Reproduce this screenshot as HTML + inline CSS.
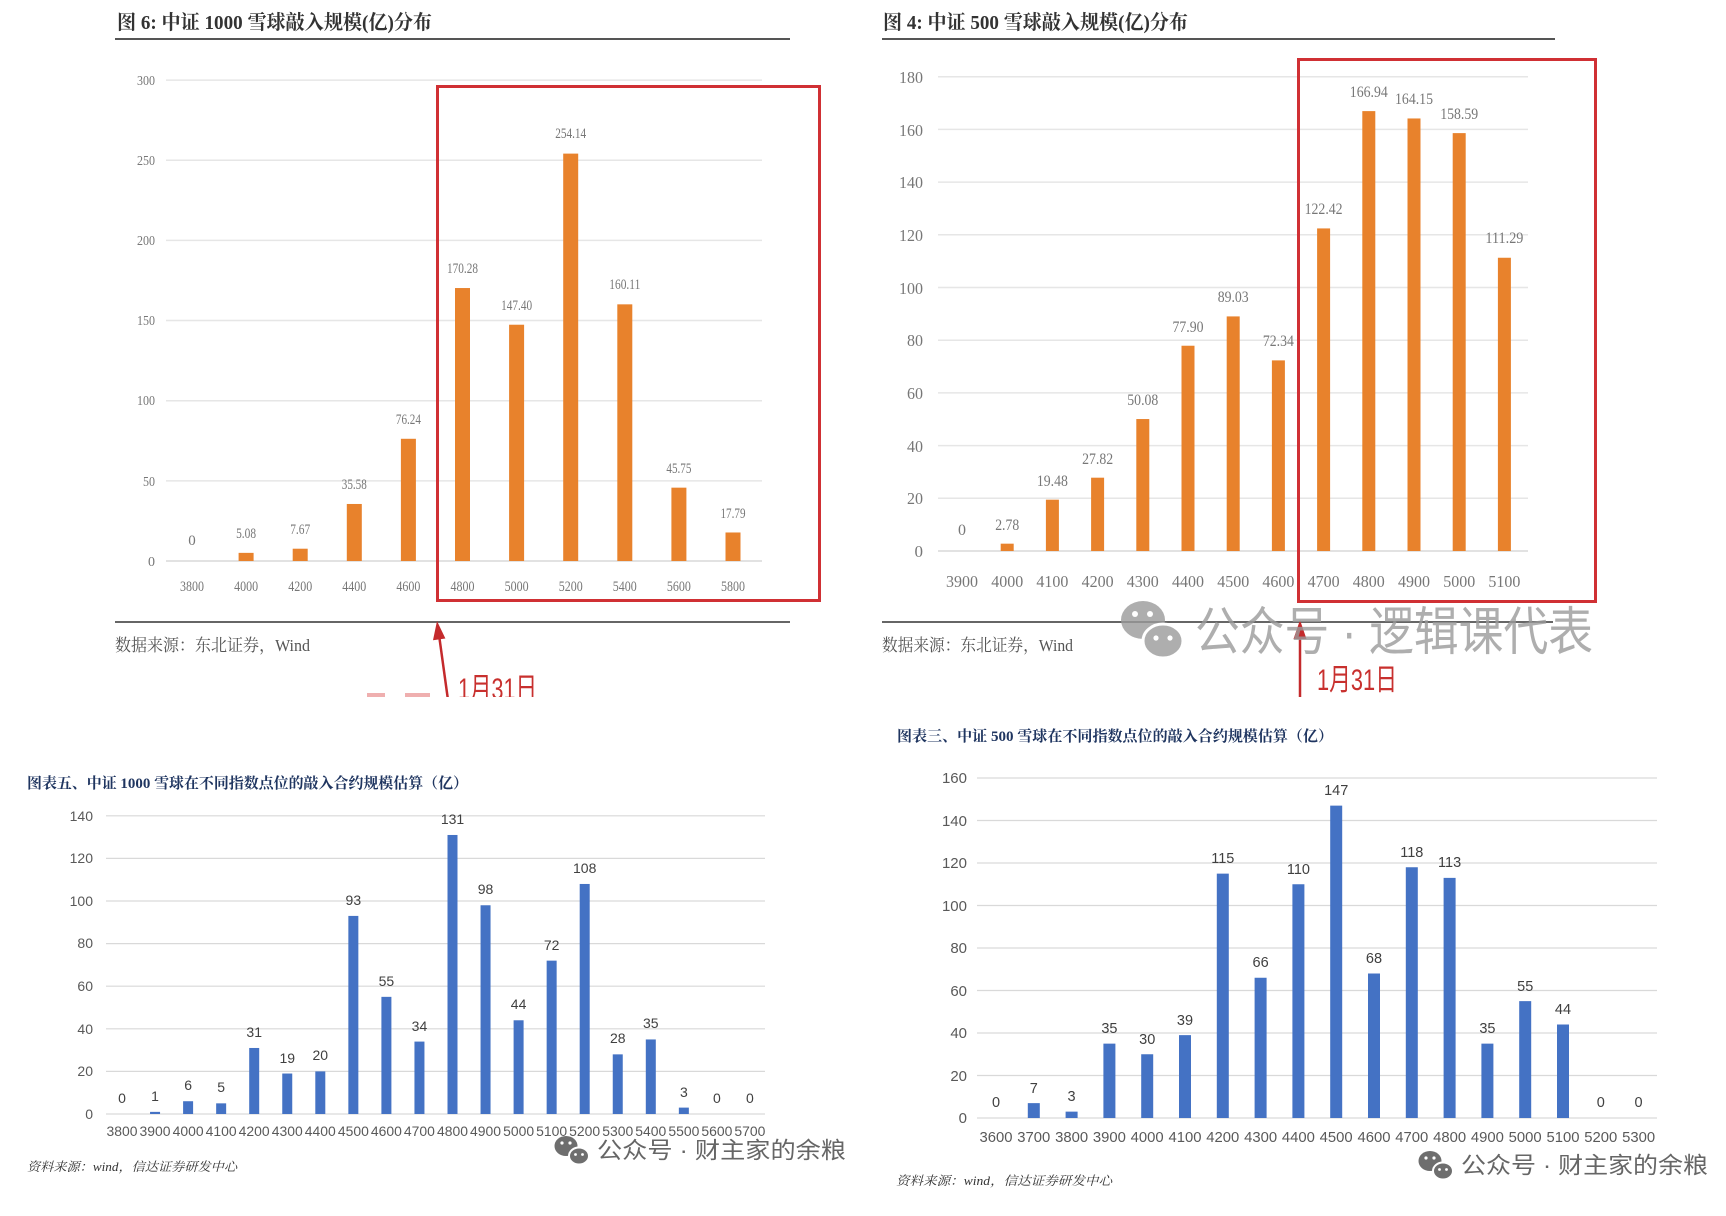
<!DOCTYPE html>
<html><head><meta charset="utf-8"><style>
html,body{margin:0;padding:0;background:#fff;}
svg{display:block;}
.ser{font-family:"Liberation Serif","Noto Serif CJK SC",serif;}
.san{font-family:"Liberation Sans","Noto Sans CJK SC",sans-serif;}
</style></head><body>
<svg width="1726" height="1216" viewBox="0 0 1726 1216" xmlns="http://www.w3.org/2000/svg">
<defs><clipPath id="topc"><rect x="0" y="0" width="1726" height="697"/></clipPath></defs>
<rect width="1726" height="1216" fill="#fff"/>
<g clip-path="url(#topc)">
<!-- ===== Top-left chart ===== -->
<text class="ser" x="117" y="29" font-size="20" font-weight="bold" fill="#333" textLength="315" lengthAdjust="spacingAndGlyphs">图 6: 中证 1000 雪球敲入规模(亿)分布</text>
<line x1="115" y1="39" x2="790" y2="39" stroke="#555" stroke-width="2"/>
<g stroke="#e6e6e6" stroke-width="1.5">
<line x1="166" y1="80.1" x2="762" y2="80.1"/><line x1="166" y1="160.25" x2="762" y2="160.25"/><line x1="166" y1="240.4" x2="762" y2="240.4"/><line x1="166" y1="320.55" x2="762" y2="320.55"/><line x1="166" y1="400.7" x2="762" y2="400.7"/><line x1="166" y1="480.85" x2="762" y2="480.85"/><line x1="166" y1="561" x2="762" y2="561" stroke="#d9d9d9"/>
</g>
<g class="ser" font-size="14" fill="#777" text-anchor="end">
<text x="155" y="85" textLength="18" lengthAdjust="spacingAndGlyphs">300</text>
<text x="155" y="165" textLength="18" lengthAdjust="spacingAndGlyphs">250</text>
<text x="155" y="245" textLength="18" lengthAdjust="spacingAndGlyphs">200</text>
<text x="155" y="325" textLength="18" lengthAdjust="spacingAndGlyphs">150</text>
<text x="155" y="405" textLength="18" lengthAdjust="spacingAndGlyphs">100</text>
<text x="155" y="486" textLength="12" lengthAdjust="spacingAndGlyphs">50</text>
<text x="155" y="566">0</text>
</g>
<g fill="#e8822c">
<rect x="238.6" y="552.86" width="15" height="8.14"/>
<rect x="292.7" y="548.71" width="15" height="12.29"/>
<rect x="346.8" y="503.97" width="15" height="57.03"/>
<rect x="400.9" y="438.79" width="15" height="122.21"/>
<rect x="455" y="288.04" width="15" height="272.96"/>
<rect x="509.1" y="324.72" width="15" height="236.28"/>
<rect x="563.2" y="153.61" width="15" height="407.39"/>
<rect x="617.3" y="304.34" width="15" height="256.66"/>
<rect x="671.4" y="487.66" width="15" height="73.34"/>
<rect x="725.5" y="532.48" width="15" height="28.52"/>
</g>
<g class="ser" font-size="15" fill="#777" text-anchor="middle">
<text x="192" y="545">0</text>
<text x="246.1" y="538" textLength="20" lengthAdjust="spacingAndGlyphs">5.08</text>
<text x="300.2" y="534" textLength="20" lengthAdjust="spacingAndGlyphs">7.67</text>
<text x="354.3" y="489" textLength="25" lengthAdjust="spacingAndGlyphs">35.58</text>
<text x="408.4" y="424" textLength="25" lengthAdjust="spacingAndGlyphs">76.24</text>
<text x="462.5" y="273" textLength="31" lengthAdjust="spacingAndGlyphs">170.28</text>
<text x="516.6" y="310" textLength="31" lengthAdjust="spacingAndGlyphs">147.40</text>
<text x="570.7" y="138" textLength="31" lengthAdjust="spacingAndGlyphs">254.14</text>
<text x="624.8" y="289" textLength="31" lengthAdjust="spacingAndGlyphs">160.11</text>
<text x="678.9" y="473" textLength="25" lengthAdjust="spacingAndGlyphs">45.75</text>
<text x="733" y="518" textLength="25" lengthAdjust="spacingAndGlyphs">17.79</text>
</g>
<g class="ser" font-size="15" fill="#777" text-anchor="middle">
<text x="192" y="591" textLength="24" lengthAdjust="spacingAndGlyphs">3800</text>
<text x="246.1" y="591" textLength="24" lengthAdjust="spacingAndGlyphs">4000</text>
<text x="300.2" y="591" textLength="24" lengthAdjust="spacingAndGlyphs">4200</text>
<text x="354.3" y="591" textLength="24" lengthAdjust="spacingAndGlyphs">4400</text>
<text x="408.4" y="591" textLength="24" lengthAdjust="spacingAndGlyphs">4600</text>
<text x="462.5" y="591" textLength="24" lengthAdjust="spacingAndGlyphs">4800</text>
<text x="516.6" y="591" textLength="24" lengthAdjust="spacingAndGlyphs">5000</text>
<text x="570.7" y="591" textLength="24" lengthAdjust="spacingAndGlyphs">5200</text>
<text x="624.8" y="591" textLength="24" lengthAdjust="spacingAndGlyphs">5400</text>
<text x="678.9" y="591" textLength="24" lengthAdjust="spacingAndGlyphs">5600</text>
<text x="733" y="591" textLength="24" lengthAdjust="spacingAndGlyphs">5800</text>
</g>
<rect x="437.5" y="86.5" width="382" height="514" fill="none" stroke="#d03034" stroke-width="3"/>
<line x1="115" y1="622" x2="790" y2="622" stroke="#666" stroke-width="2"/>
<text class="ser" x="115" y="651" font-size="17" fill="#555" textLength="195" lengthAdjust="spacingAndGlyphs">数据来源：东北证券，Wind</text>
<line x1="448" y1="700" x2="439.3" y2="637" stroke="#c42a2c" stroke-width="2.5"/>
<polygon points="437,621 445.4,638.5 433,640.2" fill="#c42a2c"/>
<text class="san" x="458" y="699" font-size="30" fill="#c8302e" textLength="79" lengthAdjust="spacingAndGlyphs">1月31日</text>
<rect x="367" y="693" width="18" height="4" fill="#e06060" opacity="0.5"/>
<rect x="405" y="693" width="25" height="4" fill="#e06060" opacity="0.5"/>

<!-- ===== Top-right chart ===== -->
<text class="ser" x="883" y="29" font-size="20" font-weight="bold" fill="#333" textLength="305" lengthAdjust="spacingAndGlyphs">图 4: 中证 500 雪球敲入规模(亿)分布</text>
<line x1="882" y1="39" x2="1555" y2="39" stroke="#555" stroke-width="2"/>
<g stroke="#e6e6e6" stroke-width="1.5">
<line x1="938" y1="76.7" x2="1528" y2="76.7"/><line x1="938" y1="129.4" x2="1528" y2="129.4"/><line x1="938" y1="182.1" x2="1528" y2="182.1"/><line x1="938" y1="234.8" x2="1528" y2="234.8"/><line x1="938" y1="287.5" x2="1528" y2="287.5"/><line x1="938" y1="340.2" x2="1528" y2="340.2"/><line x1="938" y1="392.9" x2="1528" y2="392.9"/><line x1="938" y1="445.6" x2="1528" y2="445.6"/><line x1="938" y1="498.3" x2="1528" y2="498.3"/><line x1="938" y1="551" x2="1528" y2="551" stroke="#d9d9d9"/>
</g>
<g class="ser" font-size="17" fill="#777" text-anchor="end">
<text x="923" y="83" textLength="24" lengthAdjust="spacingAndGlyphs">180</text>
<text x="923" y="136" textLength="24" lengthAdjust="spacingAndGlyphs">160</text>
<text x="923" y="188" textLength="24" lengthAdjust="spacingAndGlyphs">140</text>
<text x="923" y="241" textLength="24" lengthAdjust="spacingAndGlyphs">120</text>
<text x="923" y="294" textLength="24" lengthAdjust="spacingAndGlyphs">100</text>
<text x="923" y="346" textLength="16" lengthAdjust="spacingAndGlyphs">80</text>
<text x="923" y="399" textLength="16" lengthAdjust="spacingAndGlyphs">60</text>
<text x="923" y="452" textLength="16" lengthAdjust="spacingAndGlyphs">40</text>
<text x="923" y="504" textLength="16" lengthAdjust="spacingAndGlyphs">20</text>
<text x="923" y="557">0</text>
</g>
<g fill="#e8822c">
<rect x="1000.7" y="543.67" width="13" height="7.33"/>
<rect x="1045.9" y="499.67" width="13" height="51.33"/>
<rect x="1091.1" y="477.69" width="13" height="73.31"/>
<rect x="1136.3" y="419.04" width="13" height="131.96"/>
<rect x="1181.5" y="345.73" width="13" height="205.27"/>
<rect x="1226.7" y="316.41" width="13" height="234.59"/>
<rect x="1271.9" y="360.38" width="13" height="190.62"/>
<rect x="1317.1" y="228.42" width="13" height="322.58"/>
<rect x="1362.3" y="111.11" width="13" height="439.89"/>
<rect x="1407.5" y="118.46" width="13" height="432.54"/>
<rect x="1452.7" y="133.12" width="13" height="417.88"/>
<rect x="1497.9" y="257.75" width="13" height="293.25"/>
</g>
<g class="ser" font-size="16" fill="#777" text-anchor="middle">
<text x="962" y="535">0</text>
<text x="1007.2" y="530" textLength="24" lengthAdjust="spacingAndGlyphs">2.78</text>
<text x="1052.4" y="486" textLength="31" lengthAdjust="spacingAndGlyphs">19.48</text>
<text x="1097.6" y="464" textLength="31" lengthAdjust="spacingAndGlyphs">27.82</text>
<text x="1142.8" y="405" textLength="31" lengthAdjust="spacingAndGlyphs">50.08</text>
<text x="1188" y="332" textLength="31" lengthAdjust="spacingAndGlyphs">77.90</text>
<text x="1233.2" y="302" textLength="31" lengthAdjust="spacingAndGlyphs">89.03</text>
<text x="1278.4" y="346" textLength="31" lengthAdjust="spacingAndGlyphs">72.34</text>
<text x="1323.6" y="214" textLength="38" lengthAdjust="spacingAndGlyphs">122.42</text>
<text x="1368.8" y="97" textLength="38" lengthAdjust="spacingAndGlyphs">166.94</text>
<text x="1414" y="104" textLength="38" lengthAdjust="spacingAndGlyphs">164.15</text>
<text x="1459.2" y="119" textLength="38" lengthAdjust="spacingAndGlyphs">158.59</text>
<text x="1504.4" y="243" textLength="38" lengthAdjust="spacingAndGlyphs">111.29</text>
</g>
<g class="ser" font-size="17" fill="#777" text-anchor="middle">
<text x="962" y="587" textLength="32" lengthAdjust="spacingAndGlyphs">3900</text>
<text x="1007.2" y="587" textLength="32" lengthAdjust="spacingAndGlyphs">4000</text>
<text x="1052.4" y="587" textLength="32" lengthAdjust="spacingAndGlyphs">4100</text>
<text x="1097.6" y="587" textLength="32" lengthAdjust="spacingAndGlyphs">4200</text>
<text x="1142.8" y="587" textLength="32" lengthAdjust="spacingAndGlyphs">4300</text>
<text x="1188" y="587" textLength="32" lengthAdjust="spacingAndGlyphs">4400</text>
<text x="1233.2" y="587" textLength="32" lengthAdjust="spacingAndGlyphs">4500</text>
<text x="1278.4" y="587" textLength="32" lengthAdjust="spacingAndGlyphs">4600</text>
<text x="1323.6" y="587" textLength="32" lengthAdjust="spacingAndGlyphs">4700</text>
<text x="1368.8" y="587" textLength="32" lengthAdjust="spacingAndGlyphs">4800</text>
<text x="1414" y="587" textLength="32" lengthAdjust="spacingAndGlyphs">4900</text>
<text x="1459.2" y="587" textLength="32" lengthAdjust="spacingAndGlyphs">5000</text>
<text x="1504.4" y="587" textLength="32" lengthAdjust="spacingAndGlyphs">5100</text>
</g>
<rect x="1298.5" y="59.5" width="297" height="542" fill="none" stroke="#d03034" stroke-width="3"/>
<line x1="882" y1="622" x2="1553" y2="622" stroke="#666" stroke-width="2"/>
<text class="ser" x="882" y="651" font-size="17" fill="#555" textLength="191" lengthAdjust="spacingAndGlyphs">数据来源：东北证券，Wind</text>
<line x1="1300" y1="700" x2="1300" y2="636" stroke="#c42a2c" stroke-width="2.5"/>
<polygon points="1300,620 1306.5,639 1293.5,639" fill="#c42a2c"/>
<text class="san" x="1317" y="690" font-size="30" fill="#c8302e" textLength="80" lengthAdjust="spacingAndGlyphs">1月31日</text>
<!-- watermark -->
<g opacity="0.8">
<ellipse cx="1143" cy="620" rx="22" ry="19" fill="#9a9a9a"/>
<circle cx="1135" cy="614" r="3" fill="#fff"/><circle cx="1150" cy="614" r="3" fill="#fff"/>
<ellipse cx="1163" cy="641" rx="20" ry="17" fill="#9a9a9a" stroke="#fff" stroke-width="3"/>
<circle cx="1156" cy="638" r="2.6" fill="#fff"/><circle cx="1170" cy="638" r="2.6" fill="#fff"/>
<text class="san" x="1195" y="650" font-size="52" fill="#9a9a9a" textLength="398" lengthAdjust="spacingAndGlyphs">公众号 · 逻辑课代表</text>
</g>
</g>

<!-- ===== Bottom-left chart ===== -->
<text class="ser" x="27" y="788" font-size="15" font-weight="bold" fill="#1f3560" textLength="441" lengthAdjust="spacingAndGlyphs">图表五、中证 1000 雪球在不同指数点位的敲入合约规模估算（亿）</text>
<g stroke="#d9d9d9" stroke-width="1.2">
<line x1="106" y1="815.8" x2="765" y2="815.8"/><line x1="106" y1="858.4" x2="765" y2="858.4"/><line x1="106" y1="901" x2="765" y2="901"/><line x1="106" y1="943.6" x2="765" y2="943.6"/><line x1="106" y1="986.2" x2="765" y2="986.2"/><line x1="106" y1="1028.8" x2="765" y2="1028.8"/><line x1="106" y1="1071.4" x2="765" y2="1071.4"/><line x1="106" y1="1114" x2="765" y2="1114"/>
</g>
<g class="san" font-size="14" fill="#595959" text-anchor="end">
<text x="93" y="821">140</text><text x="93" y="863">120</text><text x="93" y="906">100</text><text x="93" y="948">80</text><text x="93" y="991">60</text><text x="93" y="1034">40</text><text x="93" y="1076">20</text><text x="93" y="1119">0</text>
</g>
<g fill="#4472c4">
<rect x="150.05" y="1111.87" width="10" height="2.13"/>
<rect x="183.1" y="1101.22" width="10" height="12.78"/>
<rect x="216.15" y="1103.35" width="10" height="10.65"/>
<rect x="249.2" y="1047.97" width="10" height="66.03"/>
<rect x="282.25" y="1073.53" width="10" height="40.47"/>
<rect x="315.3" y="1071.4" width="10" height="42.6"/>
<rect x="348.35" y="915.91" width="10" height="198.09"/>
<rect x="381.4" y="996.85" width="10" height="117.15"/>
<rect x="414.45" y="1041.58" width="10" height="72.42"/>
<rect x="447.5" y="834.97" width="10" height="279.03"/>
<rect x="480.55" y="905.26" width="10" height="208.74"/>
<rect x="513.6" y="1020.28" width="10" height="93.72"/>
<rect x="546.65" y="960.64" width="10" height="153.36"/>
<rect x="579.7" y="883.96" width="10" height="230.04"/>
<rect x="612.75" y="1054.36" width="10" height="59.64"/>
<rect x="645.8" y="1039.45" width="10" height="74.55"/>
<rect x="678.85" y="1107.61" width="10" height="6.39"/>
</g>
<g class="san" font-size="14" fill="#404040" text-anchor="middle">
<text x="122" y="1103">0</text>
<text x="155.05" y="1101">1</text>
<text x="188.1" y="1090">6</text>
<text x="221.15" y="1092">5</text>
<text x="254.2" y="1037">31</text>
<text x="287.25" y="1063">19</text>
<text x="320.3" y="1060">20</text>
<text x="353.35" y="905">93</text>
<text x="386.4" y="986">55</text>
<text x="419.45" y="1031">34</text>
<text x="452.5" y="824">131</text>
<text x="485.55" y="894">98</text>
<text x="518.6" y="1009">44</text>
<text x="551.65" y="950">72</text>
<text x="584.7" y="873">108</text>
<text x="617.75" y="1043">28</text>
<text x="650.8" y="1028">35</text>
<text x="683.85" y="1097">3</text>
<text x="716.9" y="1103">0</text>
<text x="749.95" y="1103">0</text>
</g>
<g class="san" font-size="13.5" fill="#595959" text-anchor="middle">
<text x="122" y="1136" textLength="31" lengthAdjust="spacingAndGlyphs">3800</text>
<text x="155.05" y="1136" textLength="31" lengthAdjust="spacingAndGlyphs">3900</text>
<text x="188.1" y="1136" textLength="31" lengthAdjust="spacingAndGlyphs">4000</text>
<text x="221.15" y="1136" textLength="31" lengthAdjust="spacingAndGlyphs">4100</text>
<text x="254.2" y="1136" textLength="31" lengthAdjust="spacingAndGlyphs">4200</text>
<text x="287.25" y="1136" textLength="31" lengthAdjust="spacingAndGlyphs">4300</text>
<text x="320.3" y="1136" textLength="31" lengthAdjust="spacingAndGlyphs">4400</text>
<text x="353.35" y="1136" textLength="31" lengthAdjust="spacingAndGlyphs">4500</text>
<text x="386.4" y="1136" textLength="31" lengthAdjust="spacingAndGlyphs">4600</text>
<text x="419.45" y="1136" textLength="31" lengthAdjust="spacingAndGlyphs">4700</text>
<text x="452.5" y="1136" textLength="31" lengthAdjust="spacingAndGlyphs">4800</text>
<text x="485.55" y="1136" textLength="31" lengthAdjust="spacingAndGlyphs">4900</text>
<text x="518.6" y="1136" textLength="31" lengthAdjust="spacingAndGlyphs">5000</text>
<text x="551.65" y="1136" textLength="31" lengthAdjust="spacingAndGlyphs">5100</text>
<text x="584.7" y="1136" textLength="31" lengthAdjust="spacingAndGlyphs">5200</text>
<text x="617.75" y="1136" textLength="31" lengthAdjust="spacingAndGlyphs">5300</text>
<text x="650.8" y="1136" textLength="31" lengthAdjust="spacingAndGlyphs">5400</text>
<text x="683.85" y="1136" textLength="31" lengthAdjust="spacingAndGlyphs">5500</text>
<text x="716.9" y="1136" textLength="31" lengthAdjust="spacingAndGlyphs">5600</text>
<text x="749.95" y="1136" textLength="31" lengthAdjust="spacingAndGlyphs">5700</text>
</g>
<text class="ser" x="27" y="1171" font-size="12.5" font-style="italic" fill="#333" textLength="210" lengthAdjust="spacingAndGlyphs">资料来源：wind，信达证券研发中心</text>
<g>
<ellipse cx="566" cy="1146" rx="11.5" ry="10" fill="#6e6e6e"/>
<circle cx="562" cy="1143" r="1.6" fill="#fff"/><circle cx="570" cy="1143" r="1.6" fill="#fff"/>
<ellipse cx="579" cy="1156" rx="10" ry="8.5" fill="#6e6e6e" stroke="#fff" stroke-width="2"/>
<circle cx="575.5" cy="1154.5" r="1.4" fill="#fff"/><circle cx="582.5" cy="1154.5" r="1.4" fill="#fff"/>
<text class="san" x="597" y="1158" font-size="23" fill="#666" textLength="249" lengthAdjust="spacingAndGlyphs">公众号 · 财主家的余粮</text>
</g>

<!-- ===== Bottom-right chart ===== -->
<text class="ser" x="897" y="741" font-size="15" font-weight="bold" fill="#1f3560" textLength="436" lengthAdjust="spacingAndGlyphs">图表三、中证 500 雪球在不同指数点位的敲入合约规模估算（亿）</text>
<g stroke="#d9d9d9" stroke-width="1.2">
<line x1="977" y1="778" x2="1657" y2="778"/><line x1="977" y1="820.5" x2="1657" y2="820.5"/><line x1="977" y1="863" x2="1657" y2="863"/><line x1="977" y1="905.5" x2="1657" y2="905.5"/><line x1="977" y1="948" x2="1657" y2="948"/><line x1="977" y1="990.5" x2="1657" y2="990.5"/><line x1="977" y1="1033" x2="1657" y2="1033"/><line x1="977" y1="1075.5" x2="1657" y2="1075.5"/><line x1="977" y1="1118" x2="1657" y2="1118"/>
</g>
<g class="san" font-size="15" fill="#595959" text-anchor="end">
<text x="967" y="783">160</text><text x="967" y="826">140</text><text x="967" y="868">120</text><text x="967" y="911">100</text><text x="967" y="953">80</text><text x="967" y="996">60</text><text x="967" y="1038">40</text><text x="967" y="1081">20</text><text x="967" y="1123">0</text>
</g>
<g fill="#4472c4">
<rect x="1027.8" y="1103.13" width="12" height="14.87"/>
<rect x="1065.6" y="1111.63" width="12" height="6.37"/>
<rect x="1103.4" y="1043.63" width="12" height="74.37"/>
<rect x="1141.2" y="1054.25" width="12" height="63.75"/>
<rect x="1179" y="1035.13" width="12" height="82.87"/>
<rect x="1216.8" y="873.63" width="12" height="244.37"/>
<rect x="1254.6" y="977.75" width="12" height="140.25"/>
<rect x="1292.4" y="884.25" width="12" height="233.75"/>
<rect x="1330.2" y="805.63" width="12" height="312.37"/>
<rect x="1368" y="973.5" width="12" height="144.5"/>
<rect x="1405.8" y="867.25" width="12" height="250.75"/>
<rect x="1443.6" y="877.88" width="12" height="240.12"/>
<rect x="1481.4" y="1043.63" width="12" height="74.37"/>
<rect x="1519.2" y="1001.13" width="12" height="116.87"/>
<rect x="1557" y="1024.5" width="12" height="93.5"/>
</g>
<g class="san" font-size="14.5" fill="#404040" text-anchor="middle">
<text x="996" y="1107">0</text>
<text x="1033.8" y="1093">7</text>
<text x="1071.6" y="1101">3</text>
<text x="1109.4" y="1033">35</text>
<text x="1147.2" y="1044">30</text>
<text x="1185" y="1025">39</text>
<text x="1222.8" y="863">115</text>
<text x="1260.6" y="967">66</text>
<text x="1298.4" y="874">110</text>
<text x="1336.2" y="795">147</text>
<text x="1374" y="963">68</text>
<text x="1411.8" y="857">118</text>
<text x="1449.6" y="867">113</text>
<text x="1487.4" y="1033">35</text>
<text x="1525.2" y="991">55</text>
<text x="1563" y="1014">44</text>
<text x="1600.8" y="1107">0</text>
<text x="1638.6" y="1107">0</text>
</g>
<g class="san" font-size="14.5" fill="#595959" text-anchor="middle">
<text x="996" y="1142" textLength="33" lengthAdjust="spacingAndGlyphs">3600</text>
<text x="1033.8" y="1142" textLength="33" lengthAdjust="spacingAndGlyphs">3700</text>
<text x="1071.6" y="1142" textLength="33" lengthAdjust="spacingAndGlyphs">3800</text>
<text x="1109.4" y="1142" textLength="33" lengthAdjust="spacingAndGlyphs">3900</text>
<text x="1147.2" y="1142" textLength="33" lengthAdjust="spacingAndGlyphs">4000</text>
<text x="1185" y="1142" textLength="33" lengthAdjust="spacingAndGlyphs">4100</text>
<text x="1222.8" y="1142" textLength="33" lengthAdjust="spacingAndGlyphs">4200</text>
<text x="1260.6" y="1142" textLength="33" lengthAdjust="spacingAndGlyphs">4300</text>
<text x="1298.4" y="1142" textLength="33" lengthAdjust="spacingAndGlyphs">4400</text>
<text x="1336.2" y="1142" textLength="33" lengthAdjust="spacingAndGlyphs">4500</text>
<text x="1374" y="1142" textLength="33" lengthAdjust="spacingAndGlyphs">4600</text>
<text x="1411.8" y="1142" textLength="33" lengthAdjust="spacingAndGlyphs">4700</text>
<text x="1449.6" y="1142" textLength="33" lengthAdjust="spacingAndGlyphs">4800</text>
<text x="1487.4" y="1142" textLength="33" lengthAdjust="spacingAndGlyphs">4900</text>
<text x="1525.2" y="1142" textLength="33" lengthAdjust="spacingAndGlyphs">5000</text>
<text x="1563" y="1142" textLength="33" lengthAdjust="spacingAndGlyphs">5100</text>
<text x="1600.8" y="1142" textLength="33" lengthAdjust="spacingAndGlyphs">5200</text>
<text x="1638.6" y="1142" textLength="33" lengthAdjust="spacingAndGlyphs">5300</text>
</g>
<text class="ser" x="896" y="1185" font-size="12.5" font-style="italic" fill="#333" textLength="216" lengthAdjust="spacingAndGlyphs">资料来源：wind，信达证券研发中心</text>
<g>
<ellipse cx="1430" cy="1161" rx="11.5" ry="10" fill="#6e6e6e"/>
<circle cx="1426" cy="1158" r="1.6" fill="#fff"/><circle cx="1434" cy="1158" r="1.6" fill="#fff"/>
<ellipse cx="1443" cy="1171" rx="10" ry="8.5" fill="#6e6e6e" stroke="#fff" stroke-width="2"/>
<circle cx="1439.5" cy="1169.5" r="1.4" fill="#fff"/><circle cx="1446.5" cy="1169.5" r="1.4" fill="#fff"/>
<text class="san" x="1461" y="1173" font-size="23" fill="#666" textLength="247" lengthAdjust="spacingAndGlyphs">公众号 · 财主家的余粮</text>
</g>
</svg>
</body></html>
